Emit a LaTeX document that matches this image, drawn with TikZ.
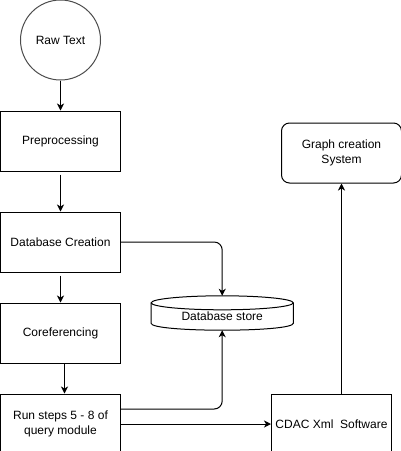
\documentclass[tikz,border=0pt]{standalone}
\usepackage{fontspec}
\setmainfont{Liberation Sans}
\usetikzlibrary{arrows.meta, positioning, shapes.geometric}
\tikzset{
  box/.style    ={draw=black, line width=1pt, minimum width=120pt, minimum height=60pt,
                  align=center, inner sep=2pt, font=\fontsize{12}{15}\selectfont},
  boxr/.style   ={box, rounded corners=8pt},
  circ/.style   ={circle, draw=black!70, line width=1pt, minimum size=80pt,
                  inner sep=0pt, font=\fontsize{12}{15}\selectfont},
  cyl/.style    ={draw=none, minimum width=142pt, minimum height=34pt,
                  text height=17pt, text depth=3pt,
                  inner sep=0pt, font=\fontsize{12}{15}\selectfont},
  line/.style   ={draw=black, line width=1pt},
  flow/.style   ={-{Stealth[length=7pt,width=7pt,inset=2pt]}, line width=1pt, draw=black}
}
\begin{document}
\begin{tikzpicture}[x=1pt, y=-1pt]
  \useasboundingbox (0,0) rectangle (401,451);

  \node[circ] (raw) at (60.5,40) {Raw Text};
  \node[box, below=30pt of raw]  (pre)    {Preprocessing};
  \node[box, below=40pt of pre]  (dbc)    {Database Creation};
  \node[box, below=30pt of dbc]  (coref)  {Coreferencing};
  \node[box, below=30pt of coref] (query) {Run steps 5 - 8 of\\query module};

  \node[cyl, right=30pt of coref, yshift=20pt] (store) {Database store};
  \node[box, right=150pt of query]             (cdac)  {CDAC Xml~~Software};
  \node[boxr, above=210pt of cdac, xshift=10pt] (graph) {Graph creation\\System};

  % cylinder outline
  \draw[line] ([yshift=-7pt]store.north west) -- ([yshift=7pt]store.south west)
     .. controls ([yshift=-2.33pt]store.south west) and ([yshift=-2.33pt]store.south east)
     .. ([yshift=7pt]store.south east) -- ([yshift=-7pt]store.north east);
  \draw[line] ([yshift=-7pt]store.north) ellipse [x radius=71pt, y radius=7pt];

  \draw[flow] (raw) -- (pre);
  \draw[flow] ([yshift=-3pt]pre.south) -- (dbc);
  \draw[flow] ([yshift=-3pt]dbc.south) -- (coref);
  \draw[flow] ([xshift=4pt]coref.south) -- ([xshift=4pt]query.north);

  \draw[flow, rounded corners=8pt] (dbc.east) -| (store.north);
  \draw[flow, rounded corners=8pt] ([yshift=15pt]query.east) -| (store.south);
  \draw[flow] (query.east) -- (cdac.west);
  \draw[flow] (cdac.north -| graph.south) -- (graph.south);

\end{tikzpicture}
\end{document}
